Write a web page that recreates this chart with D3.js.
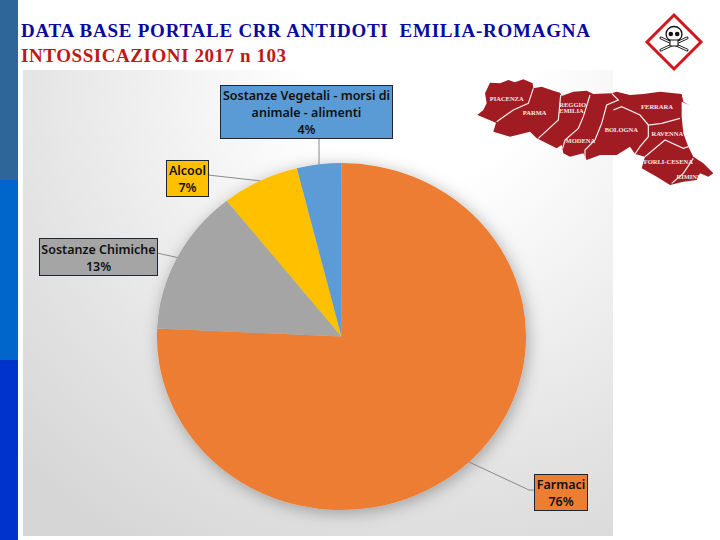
<!DOCTYPE html>
<html lang="en">
<head>
<meta charset="UTF-8">
<title>Intossicazioni 2017</title>
<style>
  body { margin: 0; background: #fff; }
  svg { display: block; }
  .box text { font-family: "Noto Sans", sans-serif; font-size: 12.5px; font-weight: 600; fill: #111; text-anchor: middle; }
  .prov { font-family: "Liberation Serif", serif; font-size: 6.5px; font-weight: bold; fill: #f5e6e6; text-anchor: middle; }
</style>
</head>
<body>
<svg id="viz" width="720" height="540"></svg>
<script src="https://d3js.org/d3.v7.min.js"></script>
<script>
// cases out of n = 103, worked back from the slice angles and the labels
const categories = ["Farmaci", "Sostanze Chimiche", "Alcool", "Sostanze Vegetali - morsi di animale - alimenti"];
const values = [78, 14, 7, 4];
const colours = ["#ed7d31", "#a5a5a5", "#ffc000", "#5b9bd5"];
const labelLines = [["Farmaci", "76%"], ["Sostanze Chimiche", "13%"], ["Alcool", "7%"], ["Sostanze Vegetali - morsi di", "animale - alimenti", "4%"]];

// label boxes: x, y, w, h and where the leader leaves the box
const boxes = [
  {x: 534, y: 474, w: 53, h: 36, lx: 534, ly: 490, kx: 529, ky: 490},
  {x: 39, y: 238, w: 118, h: 37, lx: 157, ly: 253, kx: 157, ky: 253},
  {x: 166, y: 160, w: 42, h: 36, lx: 208, ly: 175, kx: 208, ky: 175},
  {x: 220, y: 85, w: 172, h: 53, lx: 319, ly: 138, kx: 319, ky: 138}
];

const provinces = [
  ["PIACENZA", 110, 296], ["PARMA", 194, 340], ["REGGIO", 308, 314], ["EMILIA", 304, 332],
  ["MODENA", 331, 423], ["BOLOGNA", 454, 391], ["FERRARA", 561, 320], ["RAVENNA", 592, 401],
  ["FORLI-CESENA", 595, 486], ["RIMINI", 654, 530]
];

const svg = d3.select("#viz");
const defs = svg.append("defs");

// side bars of the slide
[["#2e6699", 0], ["#0066cc", 180], ["#0033cc", 360]].forEach(b => {
  svg.append("rect").attr("x", 0).attr("y", b[1]).attr("width", 18).attr("height", 180).attr("fill", b[0]);
});

// title
svg.append("text").attr("x", 21).attr("y", 37)
  .attr("font-family", "Liberation Serif").attr("font-size", 19).attr("font-weight", "bold")
  .attr("fill", "#0a0a9c").attr("xml:space", "preserve")
  .attr("textLength", 569).attr("lengthAdjust", "spacing")
  .text("DATA BASE PORTALE CRR ANTIDOTI  EMILIA-ROMAGNA");
svg.append("text").attr("x", 21).attr("y", 62)
  .attr("font-family", "Liberation Serif").attr("font-size", 19).attr("font-weight", "bold")
  .attr("fill", "#c01818")
  .attr("textLength", 265).attr("lengthAdjust", "spacing")
  .text("INTOSSICAZIONI 2017 n 103");

// chart panel background
const grad = defs.append("radialGradient").attr("id", "panelBg")
  .attr("gradientUnits", "userSpaceOnUse")
  .attr("cx", 420).attr("cy", 70).attr("r", 560);
grad.append("stop").attr("offset", "0.2").attr("stop-color", "#ffffff");
grad.append("stop").attr("offset", "0.75").attr("stop-color", "#e2e2e2");
grad.append("stop").attr("offset", "1").attr("stop-color", "#d6d6d6");
svg.append("rect").attr("x", 23).attr("y", 70).attr("width", 590).attr("height", 466).attr("fill", "url(#panelBg)");

const glow = defs.append("filter").attr("id", "glow")
  .attr("filterUnits", "userSpaceOnUse")
  .attr("x", 100).attr("y", 110).attr("width", 490).attr("height", 460);
glow.append("feDropShadow").attr("dx", 2).attr("dy", 3).attr("stdDeviation", 8)
  .attr("flood-color", "#000").attr("flood-opacity", 0.3);

// pie: slightly wider than tall, as in the picture
const cx = 341.5, cy = 336.5, rx = 184.5, ry = 173.5;
const pieData = d3.pie().sort(null)(values);
const arc = d3.arc().innerRadius(0).outerRadius(1);

const pieG = svg.append("g").attr("filter", "url(#glow)")
  .append("g")
  .attr("transform", `translate(${cx},${cy}) scale(${rx},${ry})`);
pieG.selectAll("path").data(pieData).join("path")
  .attr("d", arc)
  .attr("fill", (d, i) => colours[i]);

// leader lines, from the middle of the slice rim to its box
const leaders = pieData.map((d, i) => {
  const a = (d.startAngle + d.endAngle) / 2;
  return [[cx + rx * Math.sin(a), cy - ry * Math.cos(a)], [boxes[i].kx, boxes[i].ky], [boxes[i].lx, boxes[i].ly]];
});
svg.append("g").selectAll("path").data(leaders).join("path")
  .attr("d", d3.line())
  .attr("fill", "none").attr("stroke", "#8a8a8a").attr("stroke-width", 1);

// label boxes
const box = svg.append("g").selectAll("g").data(boxes).join("g")
  .attr("class", "box")
  .attr("transform", d => `translate(${d.x},${d.y})`);
box.append("rect")
  .attr("x", 0.5).attr("y", 0.5)
  .attr("width", d => d.w).attr("height", d => d.h)
  .attr("fill", (d, i) => colours[i])
  .attr("stroke", "#1c2733").attr("stroke-width", 1);
box.each(function (d, i) {
  const g = d3.select(this);
  const n = labelLines[i].length;
  const lh = 17;
  labelLines[i].forEach((t, j) => {
    g.append("text")
      .attr("x", d.w / 2 + 0.5)
      .attr("y", d.h / 2 + (j - (n - 1) / 2) * lh + 5.5)
      .text(t);
  });
});

// region map (decoration)
const toMap = p => [470 + p[0] / 3, p[1] / 3];
const outline = [[60,248],[90,250],[115,240],[135,247],[160,238],[188,250],[190,265],[215,260],[250,272],[270,278],[275,288],[310,275],[350,272],[370,282],[425,280],[440,275],[480,285],[520,282],[570,275],[635,282],[640,305],[658,315],[635,305],[635,350],[640,400],[655,440],[670,470],[700,490],[730,520],[715,530],[690,520],[680,540],[640,545],[600,555],[560,530],[515,505],[525,470],[495,462],[480,440],[440,465],[390,465],[350,480],[340,460],[300,470],[280,460],[275,435],[260,445],[200,415],[180,395],[120,410],[70,395],[78,368],[22,345],[40,330],[50,310],[45,280]];
const borders = [
  [[190,265],[175,310],[130,330],[80,365]],
  [[272,285],[265,360],[205,415]],
  [[360,285],[340,350],[325,385],[285,420],[278,445]],
  [[425,280],[445,300],[410,315],[395,370],[375,420],[345,450],[345,480]],
  [[430,330],[455,320],[510,345],[535,375],[575,370],[630,355]],
  [[535,375],[535,410],[510,440],[495,462]],
  [[525,470],[585,420],[640,445],[655,440]],
  [[670,475],[640,520],[605,550]]
];
const mapLine = d3.line().curve(d3.curveLinear);
svg.append("path").attr("d", mapLine(outline.map(toMap)) + "Z").attr("fill", "#a01c22");
svg.append("g").selectAll("path").data(borders).join("path")
  .attr("d", d => mapLine(d.map(toMap)))
  .attr("fill", "none").attr("stroke", "#f7eeee").attr("stroke-width", 1.2);
svg.append("g").selectAll("text").data(provinces).join("text")
  .attr("class", "prov")
  .attr("x", d => 470 + d[1] / 3).attr("y", d => d[2] / 3 + 2)
  .text(d => d[0]);

// hazard pictogram
const hz = svg.append("g").attr("transform", "translate(674,42)");
hz.append("path").attr("d", "M0,-27L27,0L0,27L-27,0Z").attr("fill", "#fff").attr("stroke", "#d4151c").attr("stroke-width", 3);
hz.append("g").attr("stroke", "#111").attr("stroke-width", 3).attr("stroke-linecap", "round")
  .selectAll("line").data([[-13, -4, 13, 8], [-13, 8, 13, -4]]).join("line")
  .attr("x1", d => d[0]).attr("y1", d => d[1]).attr("x2", d => d[2]).attr("y2", d => d[3]);
hz.append("g").attr("stroke", "#fff").attr("stroke-width", 1.2).attr("stroke-linecap", "round")
  .selectAll("line").data([[-13, -4, 13, 8], [-13, 8, 13, -4]]).join("line")
  .attr("x1", d => d[0]).attr("y1", d => d[1]).attr("x2", d => d[2]).attr("y2", d => d[3]);
hz.append("ellipse").attr("cy", -8).attr("rx", 8).attr("ry", 7.5).attr("fill", "#fff").attr("stroke", "#111").attr("stroke-width", 1.3);
hz.append("rect").attr("x", -4).attr("y", -2).attr("width", 8).attr("height", 6).attr("fill", "#fff").attr("stroke", "#111");
hz.selectAll("circle").data([-3.2, 3.2]).join("circle")
  .attr("cx", d => d).attr("cy", -8).attr("r", 2.3).attr("fill", "#111");
</script>
</body>
</html>
